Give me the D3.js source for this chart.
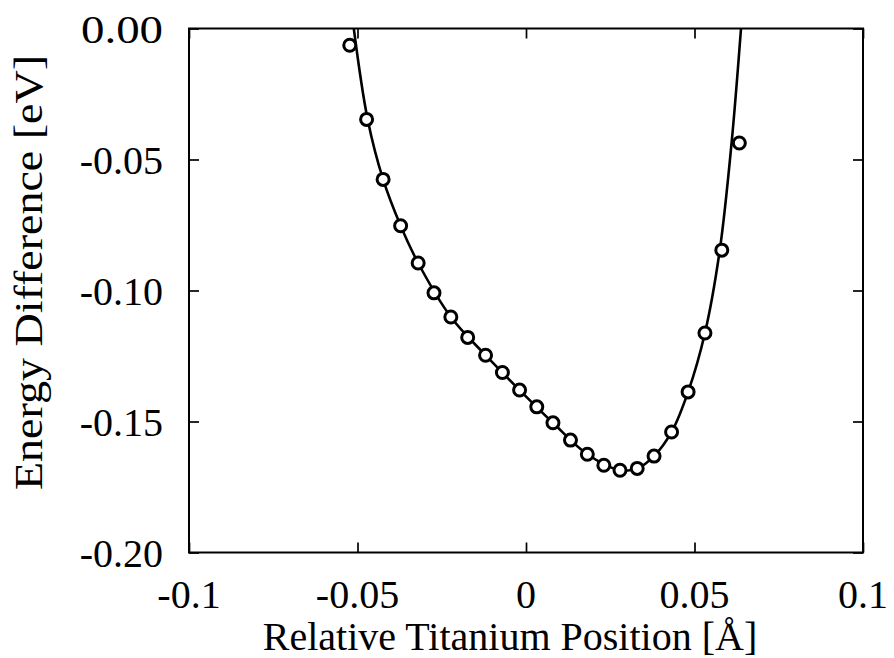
<!DOCTYPE html>
<html>
<head>
<meta charset="utf-8">
<script src="https://cdn.jsdelivr.net/npm/d3@7"></script>
<style>
  html, body { margin: 0; padding: 0; background: #fff; }
  svg { display: block; }
  text { font-family: "Liberation Serif", "Times New Roman", serif; fill: #000; }
</style>
</head>
<body>
<script>
// ---- data ----
const pointX = [-0.0523, -0.0473, -0.0424, -0.0372, -0.0320, -0.0273, -0.0223, -0.0173,
                -0.0120, -0.0070, -0.0019, 0.0032, 0.0080, 0.0132, 0.0182, 0.0231,
                0.0279, 0.0330, 0.0380, 0.0432, 0.0481, 0.0531, 0.0581, 0.0633];
const pointY = [-0.0064, -0.0347, -0.0576, -0.0753, -0.0895, -0.1009, -0.1101, -0.1179,
                -0.1247, -0.1313, -0.1380, -0.1444, -0.1505, -0.1571, -0.1625, -0.1667,
                -0.1686, -0.1679, -0.1632, -0.1540, -0.1387, -0.1162, -0.0846, -0.0437];
// fitted curve
const curveX = [-0.0511, -0.0470, -0.0424, -0.0372, -0.0320, -0.0223, -0.0120, -0.0019,
                0.0080, 0.0182, 0.0279, 0.0330, 0.0380, 0.0432, 0.0481, 0.0531,
                0.0575, 0.0610, 0.0638];
const curveY = [0.0000, -0.0346, -0.0576, -0.0753, -0.0895, -0.1101, -0.1247, -0.1380,
                -0.1505, -0.1625, -0.1686, -0.1679, -0.1632, -0.1540, -0.1387, -0.1162,
                -0.0846, -0.0437, 0.0000];
const xTicks = [-0.1, -0.05, 0, 0.05, 0.1];
const xTickLabels = ["-0.1", "-0.05", "0", "0.05", "0.1"];
const yTicks = [0, -0.05, -0.10, -0.15, -0.20];
const yTickLabels = ["0.00", "-0.05", "-0.10", "-0.15", "-0.20"];
const xTitle = "Relative Titanium Position [Å]";
const yTitle = "Energy Difference [eV]";

// ---- layout ----
const W = 894, H = 658;
const L = 189, R = 863, T = 28.5, B = 552.5;

const svg = d3.select("body").append("svg").attr("width", W).attr("height", H);

const x = d3.scaleLinear().domain([-0.1, 0.1]).range([L, R]);
const y = d3.scaleLinear().domain([-0.20, 0]).range([B, T]);

svg.append("defs").append("clipPath").attr("id", "clip")
  .append("rect").attr("x", L).attr("y", T).attr("width", R - L).attr("height", B - T);

// axes with inward ticks (bottom/top/left/right)
const tickLen = 10;
const gB = svg.append("g").attr("transform", `translate(0,${B})`)
  .call(d3.axisBottom(x).tickValues(xTicks).tickSize(-tickLen).tickFormat(""));
const gT = svg.append("g").attr("transform", `translate(0,${T})`)
  .call(d3.axisTop(x).tickValues(xTicks).tickSize(-tickLen).tickFormat(""));
const gL = svg.append("g").attr("transform", `translate(${L},0)`)
  .call(d3.axisLeft(y).tickValues(yTicks).tickSize(-tickLen).tickFormat(""));
const gR = svg.append("g").attr("transform", `translate(${R},0)`)
  .call(d3.axisRight(y).tickValues(yTicks).tickSize(-tickLen).tickFormat(""));
[gB, gT, gL, gR].forEach(g => {
  g.select(".domain").remove();
  g.selectAll("line").attr("stroke", "#000").attr("stroke-width", 1.7);
});

// frame
svg.append("rect").attr("x", L).attr("y", T).attr("width", R - L).attr("height", B - T)
  .attr("fill", "none").attr("stroke", "#000").attr("stroke-width", 2);

// tick labels
svg.append("g").selectAll("text").data(xTicks).join("text")
  .attr("x", d => x(d)).attr("y", 608)
  .attr("text-anchor", "middle").attr("font-size", 40)
  .text((d, i) => xTickLabels[i]);
svg.append("g").selectAll("text").data(yTicks).join("text")
  .attr("x", 163).attr("y", d => y(d) + 14)
  .attr("text-anchor", "end").attr("font-size", 40)
  .text((d, i) => yTickLabels[i])
  .each(function(d, i) {
    if (i === 0) d3.select(this).attr("textLength", 82).attr("lengthAdjust", "spacingAndGlyphs");
  });

// titles
svg.append("text").attr("x", 510).attr("y", 650)
  .attr("text-anchor", "middle").attr("font-size", 40).text(xTitle);
svg.append("text").attr("transform", "translate(42,272.5) rotate(-90)")
  .attr("text-anchor", "middle").attr("font-size", 41)
  .attr("textLength", 435).attr("lengthAdjust", "spacingAndGlyphs")
  .text(yTitle);

// fitted curve
const curveData = curveX.map((v, i) => [v, curveY[i]]);
svg.append("path").datum(curveData)
  .attr("clip-path", "url(#clip)")
  .attr("fill", "none").attr("stroke", "#000").attr("stroke-width", 2.6)
  .attr("d", d3.line().x(d => x(d[0])).y(d => y(d[1])).curve(d3.curveCatmullRom.alpha(0.5)));

// points
const pts = pointX.map((v, i) => [v, pointY[i]]);
svg.append("g").selectAll("circle").data(pts).join("circle")
  .attr("cx", d => x(d[0])).attr("cy", d => y(d[1])).attr("r", 6)
  .attr("fill", "#fff").attr("stroke", "#000").attr("stroke-width", 3);
</script>
</body>
</html>
